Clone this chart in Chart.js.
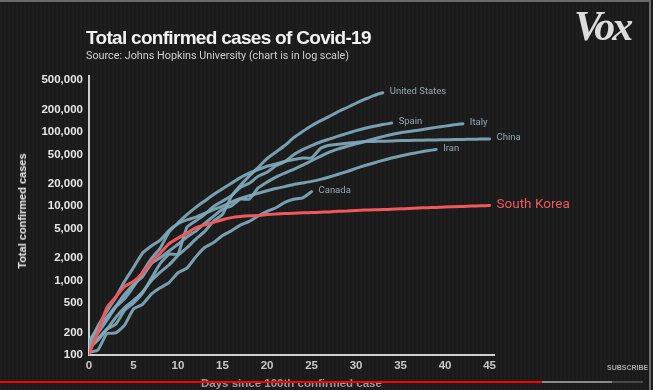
<!DOCTYPE html>
<html lang="en">
<head>
    <meta charset="UTF-8">
    <title>Total confirmed cases of Covid-19</title>
    <script src="https://cdn.jsdelivr.net/npm/chart.js@4.4.4/dist/chart.umd.min.js"></script>
    <style>
        body {
            margin: 0;
            width: 653px;
            height: 390px;
            overflow: hidden;
            position: relative;
            background: repeating-linear-gradient(90deg, #1e1e1e 0 2px, #1a1a1a 2px 4px);
            font-family: "Liberation Sans", Arial, sans-serif;
        }
        #frame {
            position: absolute;
            left: 0; top: 0; width: 651px; height: 390px;
            border-top: 2px solid #6a6a6a;
            border-right: 2px solid #6a6a6a;
            box-sizing: border-box;
            pointer-events: none;
        }
        #chart { position: absolute; left: 0; top: 0; }
        #title {
            position: absolute; left: 86px; top: 27px;
            color: #f2f2f2; font-size: 19px; font-weight: bold;
            letter-spacing: -0.7px; white-space: nowrap;
        }
        #subtitle {
            position: absolute; left: 86px; top: 49px;
            color: #d0d0d0; font-size: 10.8px; white-space: nowrap;
            font-family: Roboto, sans-serif;
        }
        #vox {
            position: absolute; left: 574px; top: 2px;
            color: #dcdcdc; font-family: "Liberation Serif", serif;
            font-size: 42px; font-weight: bold; font-style: italic;
            letter-spacing: -3px;
        }
        #ytitle {
            position: absolute; left: 22px; top: 211px;
            transform: translate(-50%, -50%) rotate(-90deg);
            color: #e6e6e6; font-size: 11px; font-weight: bold; white-space: nowrap;
        }
        #xtitle {
            position: absolute; left: 201px; top: 377px;
            color: #9a9a9a; font-size: 11.5px; font-weight: bold; white-space: nowrap;
        }
        #subscribe {
            position: absolute; left: 607px; top: 364px;
            color: #a8a8a8; font-size: 7px; font-weight: bold;
        }
        .bar { position: absolute; top: 381px; height: 2px; }
    </style>
</head>
<body>
    <canvas id="chart" width="653" height="390"></canvas>
    <div id="title">Total confirmed cases of Covid-19</div>
    <div id="subtitle">Source: Johns Hopkins University (chart is in log scale)</div>
    <div id="vox">Vox</div>
    <div id="ytitle">Total confirmed cases</div>
    <div id="xtitle">Days since 100th confirmed case</div>
    <div id="subscribe">SUBSCRIBE</div>
    <div class="bar" style="left:0;width:542px;background:#f00;"></div>
    <div class="bar" style="left:542px;width:70px;background:#8a8a8a;"></div>
    <div class="bar" style="left:612px;width:31px;background:#4a4a4a;"></div>
    <div id="frame"></div>

    <script>
        // days since the 100th confirmed case
        const days = [0, 1, 2, 3, 4, 5, 6, 7, 8, 9, 10, 11, 12, 13, 14, 15, 16, 17, 18, 19, 20, 21, 22,
            23, 24, 25, 26, 27, 28, 29, 30, 31, 32, 33, 34, 35, 36, 37, 38, 39, 40, 41, 42, 43, 44, 45];

        const southKorea = [104, 204, 433, 602, 833, 977, 1261, 1766, 2337, 3150, 3736, 4335, 5186, 5621,
            6088, 6593, 7041, 7314, 7478, 7513, 7755, 7869, 7979, 8086, 8162, 8236, 8320, 8413, 8565, 8652,
            8799, 8897, 8961, 9037, 9137, 9241, 9332, 9478, 9583, 9661, 9786, 9887, 9976, 10062, 10156, 10237];
        const unitedStates = [124, 158, 221, 319, 435, 541, 704, 994, 1301, 1630, 2183, 2770, 3613, 4596,
            6344, 7787, 13677, 19100, 25489, 33276, 43847, 53740, 65778, 83836, 101657, 121478, 140886,
            161807, 188172, 213372, 243453, 275586, 308853, 337072];
        const spain = [120, 165, 222, 259, 400, 500, 673, 1073, 1695, 2277, 2277, 5232, 6391, 7798, 9942,
            11748, 13910, 17963, 20410, 25374, 28768, 35136, 39885, 49515, 57786, 65719, 73235, 80110,
            87956, 95923, 104118, 112065, 119199, 126168, 131646];
        const italy = [155, 229, 322, 453, 655, 888, 1128, 1694, 2036, 2502, 3089, 3858, 4636, 5883, 7375,
            9172, 10149, 12462, 12462, 17660, 21157, 24747, 27980, 31506, 35713, 41035, 47021, 53578, 59138,
            63927, 69176, 74386, 80589, 86498, 92472, 97689, 101739, 105792, 110574, 115242, 119827,
            124632, 128948];
        const china = [121, 198, 291, 440, 571, 830, 1287, 1975, 2744, 4515, 5974, 7711, 9692, 11791,
            14380, 17205, 20438, 24324, 28018, 31161, 34546, 37198, 40171, 42638, 44653, 44759, 59895,
            66358, 68413, 70513, 72434, 74211, 74619, 75077, 75550, 77001, 77022, 77241, 77754, 78166,
            78600, 78928, 79356, 79932, 80136, 80261];
        const iran = [139, 245, 388, 593, 978, 1501, 2336, 2922, 3513, 4747, 5823, 6566, 7161, 8042, 9000,
            10075, 11364, 12729, 13938, 14991, 16169, 17361, 18407, 19644, 20610, 21638, 23049, 24811,
            27017, 29406, 32332, 35408, 38309, 41495, 44605, 47593, 50468, 53183, 55743, 58226];
        const canada = [108, 117, 193, 198, 252, 415, 478, 657, 800, 943, 1277, 1469, 2088, 2790, 3251,
            4042, 4682, 5576, 6280, 7398, 8527, 9560, 11284, 12437, 12978, 15756];

        const xTicks = [0, 5, 10, 15, 20, 25, 30, 35, 40, 45];
        const yTicks = [100, 200, 500, 1000, 2000, 5000, 10000, 20000, 50000, 100000, 200000, 500000];

        const blue = 'rgba(128, 170, 188, 0.92)';
        const red = '#f0585c';

        function points(values) {
            return values.map((v, i) => ({ x: days[i], y: v }));
        }

        function series(label, values, color) {
            return {
                label: label,
                data: points(values),
                borderColor: color,
                borderWidth: 3,
                pointRadius: 0,
                tension: 0.15,
                borderCapStyle: 'round',
                borderJoinStyle: 'round'
            };
        }

        // label at the end of each line
        const endLabels = {
            id: 'endLabels',
            afterDatasetsDraw(chart) {
                const ctx = chart.ctx;
                chart.data.datasets.forEach((ds, i) => {
                    const meta = chart.getDatasetMeta(i);
                    const last = meta.data[meta.data.length - 1];
                    const korea = ds.label === 'South Korea';
                    ctx.save();
                    ctx.font = korea ? '13.5px Roboto, sans-serif' : '9.5px Roboto, sans-serif';
                    ctx.fillStyle = korea ? '#ee5a5d' : '#95a9b1';
                    ctx.textBaseline = 'middle';
                    ctx.fillText(ds.label, last.x + 7, last.y - 1);
                    ctx.restore();
                });
            }
        };

        new Chart(document.getElementById('chart'), {
            type: 'line',
            data: {
                datasets: [
                    series('South Korea', southKorea, red),
                    series('United States', unitedStates, blue),
                    series('Spain', spain, blue),
                    series('Italy', italy, blue),
                    series('China', china, blue),
                    series('Iran', iran, blue),
                    series('Canada', canada, blue)
                ]
            },
            options: {
                responsive: false,
                animation: false,
                layout: { padding: { left: 0, top: 76, right: 159, bottom: 0 } },
                plugins: { legend: { display: false }, tooltip: { enabled: false } },
                scales: {
                    x: {
                        type: 'linear',
                        min: 0,
                        max: 45.5,
                        grid: { display: false, drawTicks: false },
                        border: { display: true, color: '#cfcfcf', width: 2 },
                        ticks: {
                            padding: 4,
                            color: '#c8c8c8',
                            font: { family: 'Liberation Sans', size: 11.5, weight: 'bold' }
                        },
                        afterBuildTicks: scale => { scale.ticks = xTicks.map(v => ({ value: v })); },
                        afterFit: scale => { scale.height = 35; }
                    },
                    y: {
                        type: 'logarithmic',
                        min: 100,
                        max: 566000,
                        grid: { display: false, drawTicks: false },
                        border: { display: true, color: '#cfcfcf', width: 2 },
                        ticks: {
                            padding: 6,
                            color: '#e6e6e6',
                            font: { family: 'Liberation Sans', size: 11.5, weight: 'bold' },
                            callback: v => v.toLocaleString('en-US')
                        },
                        afterBuildTicks: scale => { scale.ticks = yTicks.map(v => ({ value: v })); },
                        afterFit: scale => { scale.width = 89; }
                    }
                }
            },
            plugins: [endLabels]
        });
    </script>
</body>
</html>
